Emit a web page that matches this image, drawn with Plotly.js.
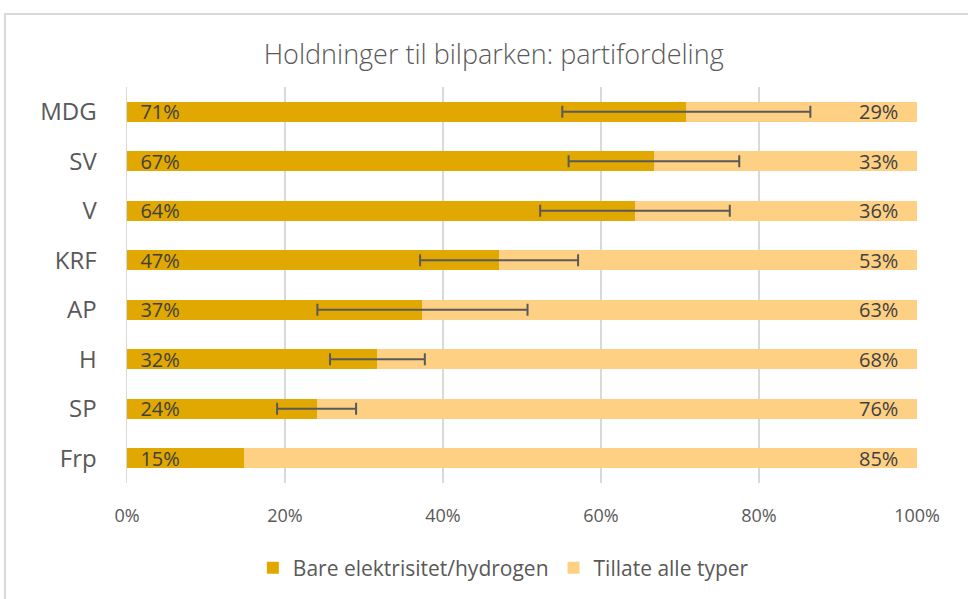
<!DOCTYPE html>
<html>
<head>
<meta charset="utf-8">
<script src="https://cdn.plot.ly/plotly-3.0.1.min.js"></script>
<style>
  html, body { margin: 0; padding: 0; background: #fff; }
  #wrap { position: relative; width: 968px; height: 599px; overflow: hidden; }
  #chart { position: absolute; left: 0; top: 0; width: 968px; height: 599px; }
  #frame { position: absolute; left: 4px; top: 13px; width: 1000px; height: 700px;
           border-left: 2px solid #d9d9d9; border-top: 2px solid #d9d9d9; pointer-events: none; }
</style>
</head>
<body>
<div id="wrap">
  <div id="chart"></div>
  <div id="frame"></div>
</div>
<script>
// Data
const parties = ["MDG", "SV", "V", "KRF", "AP", "H", "SP", "Frp"];
const onlyElectric = [70.8, 66.7, 64.3, 47.1, 37.4, 31.7, 24.0, 14.8];
const errorMargin = [15.7, 10.8, 12.0, 10.0, 13.3, 6.0, 5.0, null];
const allowAll = onlyElectric.map(v => 100 - v);
const seriesNames = ["Bare elektrisitet/hydrogen", "Tillate alle typer"];
const xTicks = [0, 20, 40, 60, 80, 100];
const xTickLabels = ["0%", "20%", "40%", "60%", "80%", "100%"];

const FONT = "Open Sans, Noto Sans, sans-serif";
const labelFont = { family: FONT, size: 20, color: "#404040" };
const PAD = "\u00a0\u00a0";

// error bars only where a margin exists
const errY = parties.filter((p, i) => errorMargin[i] != null);
const errX = onlyElectric.filter((v, i) => errorMargin[i] != null);
const errArr = errorMargin.filter(e => e != null);

const traces = [
  {
    type: "bar", orientation: "h",
    name: seriesNames[0],
    y: parties, x: onlyElectric,
    marker: { color: "#E0A800" },
    width: 0.4,
    text: onlyElectric.map(v => PAD + Math.round(v) + "%"),
    textposition: "inside", insidetextanchor: "start",
    textfont: labelFont, constraintext: "none",
    hoverinfo: "skip"
  },
  {
    type: "bar", orientation: "h",
    name: seriesNames[1],
    y: parties, x: allowAll,
    marker: { color: "#FED083" },
    width: 0.4,
    text: allowAll.map(v => Math.round(v) + "%" + PAD + "\u00a0"),
    textposition: "inside", insidetextanchor: "end",
    textfont: labelFont, constraintext: "none",
    hoverinfo: "skip"
  },
  {
    type: "scatter", mode: "markers",
    y: errY, x: errX,
    marker: { size: 0.1, color: "rgba(0,0,0,0)" },
    error_x: { type: "data", array: errArr, visible: true,
               color: "#595959", thickness: 2, width: 6 },
    showlegend: false, hoverinfo: "skip", cliponaxis: false
  }
];

const layout = {
  width: 968, height: 599,
  paper_bgcolor: "rgba(0,0,0,0)", plot_bgcolor: "rgba(0,0,0,0)",
  barmode: "stack",
  margin: { l: 127, r: 51, t: 87, b: 116 },
  font: { family: FONT, color: "#595959" },
  title: {
    text: "Holdninger til bilparken: partifordeling",
    font: { family: FONT, size: 27, color: "#595959", weight: 300 },
    xref: "container", x: 0.51, xanchor: "center",
    yref: "container", y: 1 - 55 / 599, yanchor: "middle"
  },
  xaxis: {
    range: [0, 100], tickvals: xTicks, ticktext: xTickLabels,
    showgrid: true, gridcolor: "#d9d9d9", gridwidth: 1.5,
    zeroline: false, showline: false,
    ticks: "outside", ticklen: 16, tickcolor: "rgba(0,0,0,0)",
    tickfont: { family: FONT, size: 18, color: "#595959" },
    fixedrange: true
  },
  yaxis: {
    type: "category", autorange: false, range: [7.5, -0.5],
    showgrid: false, zeroline: false, showline: true, linecolor: "#d9d9d9", linewidth: 1.5,
    ticks: "outside", ticklen: 24, tickcolor: "rgba(0,0,0,0)",
    tickfont: { family: FONT, size: 24, color: "#595959" },
    fixedrange: true
  },
  showlegend: true,
  legend: {
    orientation: "h",
    xref: "container", x: 0.52, xanchor: "center",
    yref: "container", y: 1 - 568 / 599, yanchor: "middle",
    font: { family: FONT, size: 21, color: "#595959" },
    traceorder: "normal"
  }
};

Plotly.newPlot("chart", traces, layout, { displayModeBar: false, staticPlot: true });
</script>
</body>
</html>
